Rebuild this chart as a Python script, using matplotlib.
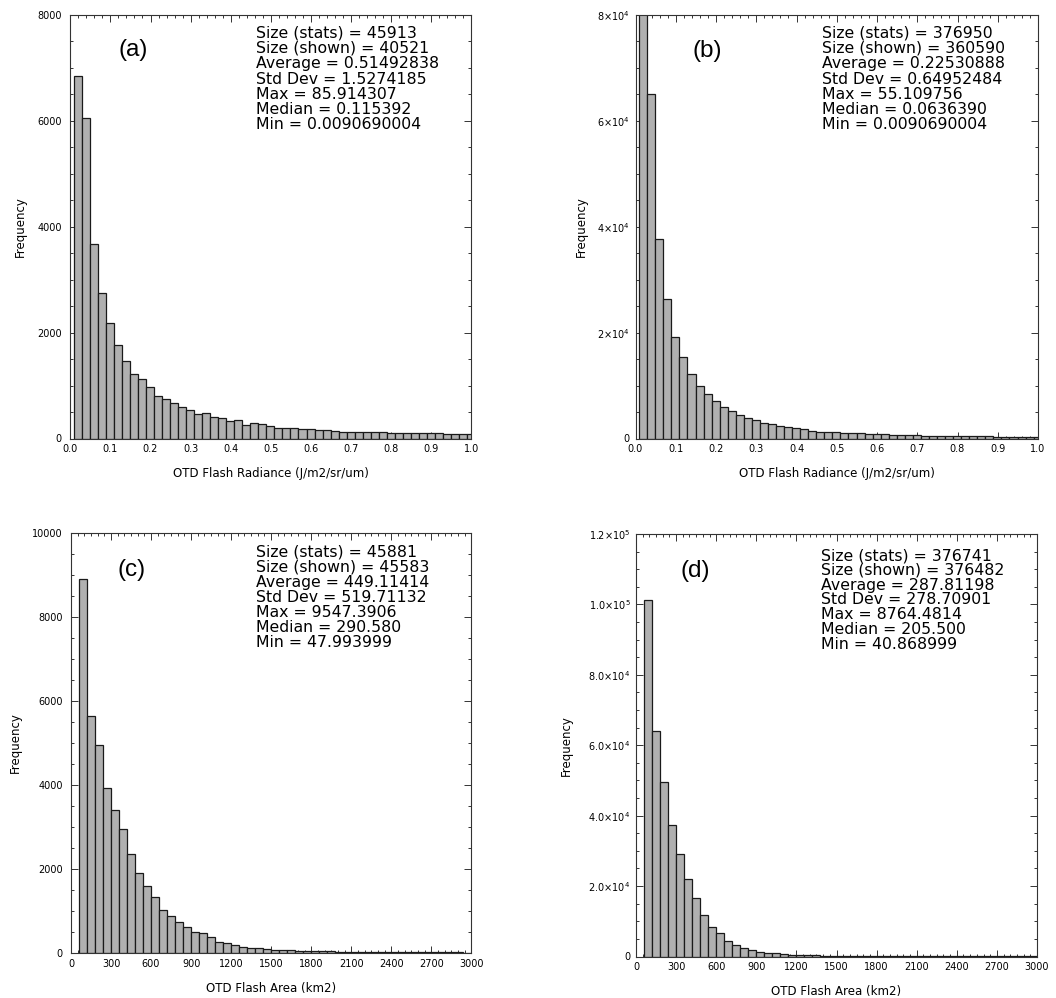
import matplotlib
matplotlib.use("Agg")
import matplotlib.pyplot as plt
import numpy as np
from matplotlib.ticker import FixedLocator, FixedFormatter, AutoMinorLocator

plt.rcParams['font.family'] = ['DejaVu Sans']
plt.rcParams['mathtext.fontset'] = 'dejavusans'

# ---------------- data ----------------
# Panel (a): OTD flash radiance, 50 bins of width 0.02 starting at min value
radiance_bin_start = 0.009069
radiance_bin_width = 0.02
counts_a = [6850, 6050, 3680, 2750, 2180, 1760, 1460, 1210, 1120, 980,
            810, 750, 680, 600, 530, 460, 490, 410, 390, 330,
            350, 260, 300, 275, 245, 205, 205, 190, 175, 175,
            170, 160, 140, 130, 125, 125, 120, 115, 115, 110,
            105, 105, 100, 100, 95, 95, 90, 90, 85, 85]
# Panel (b)
counts_b = [95000, 65000, 37700, 26300, 19230, 15450, 12180, 9920, 8340, 7140,
            6010, 5250, 4440, 3930, 3490, 2990, 2740, 2360, 2110, 1920,
            1730, 1480, 1290, 1250, 1150, 1080, 1010, 950, 880, 820,
            770, 720, 680, 640, 600, 560, 530, 500, 480, 460,
            440, 420, 400, 380, 370, 350, 340, 330, 320, 310]
# Panel (c): OTD flash area, bins of width 60 km2
area_bin_start = 60
area_bin_width = 60
counts_c = [8900, 5630, 4950, 3920, 3400, 2960, 2350, 1910, 1600, 1325,
            1020, 890, 730, 626, 507, 468, 373, 254, 230, 190,
            150, 126, 111, 95, 80, 72, 65, 58, 52, 47,
            42, 38, 35, 32, 29, 27, 25, 23, 21, 20,
            19, 18, 17, 16, 15, 14, 13, 12, 11]
# Panel (d)
counts_d = [101250, 64130, 49650, 37350, 29020, 22010, 16520, 11790, 8470, 6580,
            4300, 3300, 2500, 1850, 1370, 1080, 900, 710, 520, 420,
            350, 290, 240, 200, 170, 145, 125, 110, 95, 85,
            75, 65, 58, 52, 46, 42, 38, 34, 31, 28,
            26, 24, 22, 20, 18, 17, 16, 15, 14]

panel_labels = ["(a)", "(b)", "(c)", "(d)"]
xlabel_radiance = "OTD Flash Radiance (J/m2/sr/um)"
xlabel_area = "OTD Flash Area (km2)"
ylabel_text = "Frequency"

radiance_ticks = [0.0, 0.1, 0.2, 0.3, 0.4, 0.5, 0.6, 0.7, 0.8, 0.9, 1.0]
radiance_ticklabels = ["0.0", "0.1", "0.2", "0.3", "0.4", "0.5", "0.6", "0.7", "0.8", "0.9", "1.0"]
area_ticks = [0, 300, 600, 900, 1200, 1500, 1800, 2100, 2400, 2700, 3000]
area_ticklabels = ["0", "300", "600", "900", "1200", "1500", "1800", "2100", "2400", "2700", "3000"]

yticks_a = [0, 2000, 4000, 6000, 8000]
yticklabels_a = ["0", "2000", "4000", "6000", "8000"]
yticks_b = [0, 20000, 40000, 60000, 80000]
yticklabels_b = ["0", r"$2{\times}10^4$", r"$4{\times}10^4$", r"$6{\times}10^4$", r"$8{\times}10^4$"]
yticks_c = [0, 2000, 4000, 6000, 8000, 10000]
yticklabels_c = ["0", "2000", "4000", "6000", "8000", "10000"]
yticks_d = [0, 20000, 40000, 60000, 80000, 100000, 120000]
yticklabels_d = ["0", r"$2.0{\times}10^4$", r"$4.0{\times}10^4$", r"$6.0{\times}10^4$",
                 r"$8.0{\times}10^4$", r"$1.0{\times}10^5$", r"$1.2{\times}10^5$"]

stats_a = ["Size (stats) = 45913", "Size (shown) = 40521", "Average = 0.51492838",
           "Std Dev = 1.5274185", "Max = 85.914307", "Median = 0.115392",
           "Min = 0.0090690004"]
stats_b = ["Size (stats) = 376950", "Size (shown) = 360590", "Average = 0.22530888",
           "Std Dev = 0.64952484", "Max = 55.109756", "Median = 0.0636390",
           "Min = 0.0090690004"]
stats_c = ["Size (stats) = 45881", "Size (shown) = 45583", "Average = 449.11414",
           "Std Dev = 519.71132", "Max = 9547.3906", "Median = 290.580",
           "Min = 47.993999"]
stats_d = ["Size (stats) = 376741", "Size (shown) = 376482", "Average = 287.81198",
           "Std Dev = 278.70901", "Max = 8764.4814", "Median = 205.500",
           "Min = 40.868999"]

# ---------------- figure ----------------
W, H = 1056, 998
fig = plt.figure(figsize=(W / 100, H / 100), dpi=100)
fig.patch.set_facecolor('white')


def px_axes(left, right, top, bottom):
    return [left / W, 1 - bottom / H, (right - left) / W, (bottom - top) / H]


BAR_FACE = '#b0b0b0'
BAR_EDGE = '#1a1a1a'


def panel(rect, start, width, counts, xlim, ylim, xticks, xticklabels, xminor,
          yticks, yticklabels, yminor, xlabel, label, stats,
          stat_x, stat_y0, stat_dy, label_xy, ylabel_x, ytick_pad):
    ax = fig.add_axes(rect)
    edges = start + width * np.arange(len(counts))
    ax.bar(edges, counts, width=width, align='edge', color=BAR_FACE,
           edgecolor=BAR_EDGE, linewidth=0.9, zorder=2)
    ax.set_xlim(*xlim)
    ax.set_ylim(*ylim)
    ax.xaxis.set_major_locator(FixedLocator(xticks))
    ax.xaxis.set_major_formatter(FixedFormatter(xticklabels))
    ax.yaxis.set_major_locator(FixedLocator(yticks))
    ax.yaxis.set_major_formatter(FixedFormatter(yticklabels))
    ax.xaxis.set_minor_locator(AutoMinorLocator(xminor))
    ax.yaxis.set_minor_locator(AutoMinorLocator(yminor))
    ax.tick_params(which='both', direction='in', top=True, right=True,
                   color='#333333', width=0.7)
    ax.tick_params(which='major', length=5)
    ax.tick_params(which='minor', length=2.5)
    ax.tick_params(axis='x', which='major', labelsize=7, pad=4)
    ax.tick_params(axis='y', which='major', labelsize=7, pad=ytick_pad)
    for sp in ax.spines.values():
        sp.set_color('#333333')
        sp.set_linewidth(0.8)
    ax.set_xlabel(xlabel, fontsize=8.5)
    ax.xaxis.set_label_coords(0.5, -0.068)
    ax.set_ylabel(ylabel_text, fontsize=8.5)
    ax.yaxis.set_label_coords(ylabel_x, 0.5)
    ax.text(label_xy[0], label_xy[1], label, transform=ax.transAxes,
            fontsize=17.5, family='Liberation Sans', ha='center', va='center')
    for i, s in enumerate(stats):
        ax.text(stat_x, stat_y0 - i * stat_dy, s, transform=ax.transAxes,
                fontsize=11.3, ha='left', va='center', color='black')
    return ax


panel(px_axes(70.3, 471.3, 15, 438.5), radiance_bin_start, radiance_bin_width, counts_a,
      (0, 1.0), (0, 8000), radiance_ticks, radiance_ticklabels, 5,
      yticks_a, yticklabels_a, 4, xlabel_radiance, panel_labels[0], stats_a,
      0.463, 0.957, 0.0361, (0.156, 0.917), -0.108, 6)

panel(px_axes(635.5, 1038, 15, 438.5), radiance_bin_start, radiance_bin_width, counts_b,
      (0, 1.0), (0, 80000), radiance_ticks, radiance_ticklabels, 5,
      yticks_b, yticklabels_b, 4, xlabel_radiance, panel_labels[1], stats_b,
      0.464, 0.957, 0.0361, (0.178, 0.915), -0.118, 4)

panel(px_axes(71, 471.3, 532.7, 953), area_bin_start, area_bin_width, counts_c,
      (0, 3000), (0, 10000), area_ticks, area_ticklabels, 6,
      yticks_c, yticklabels_c, 4, xlabel_area, panel_labels[2], stats_c,
      0.462, 0.953, 0.0357, (0.152, 0.911), -0.122, 6)

panel(px_axes(636, 1037, 534, 956.5), area_bin_start, area_bin_width, counts_d,
      (0, 3000), (0, 120000), area_ticks, area_ticklabels, 6,
      yticks_d, yticklabels_d, 4, xlabel_area, panel_labels[3], stats_d,
      0.462, 0.949, 0.0349, (0.148, 0.912), -0.157, 4)

fig.savefig("out.png", dpi=100, facecolor='white')
